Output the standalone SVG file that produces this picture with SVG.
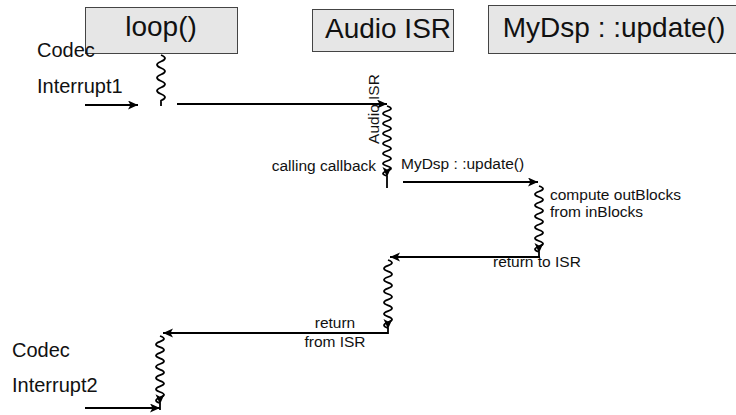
<svg xmlns="http://www.w3.org/2000/svg" width="736" height="415" viewBox="0 0 736 415">
  <style>
    .box { fill: #e6e6e6; stroke: #444; stroke-width: 1; }
    .title { font-family: "Liberation Sans", Arial, sans-serif; font-size: 28px; fill: #111; text-anchor: middle; }
    .side { font-family: "Liberation Sans", Arial, sans-serif; font-size: 20px; fill: #111; }
    .lbl { font-family: "Liberation Sans", Arial, sans-serif; font-size: 15.5px; fill: #111; }
    .msg { fill: none; stroke: #000; stroke-width: 2; }
    .wave { fill: none; stroke: #000; stroke-width: 1.8; stroke-linejoin: round; }
    .head { marker-end: url(#arrow); }
  </style>
  <defs>
    <marker id="arrow" markerUnits="userSpaceOnUse" markerWidth="12" markerHeight="10" refX="10" refY="4.5" orient="auto">
      <path d="M0,0 L10,4.5 L0,9 L2.5,4.5 z" fill="#000"/>
    </marker>
  </defs>

  <!-- lifeline heads -->
  <g id="loop">
    <rect class="box" x="85.5" y="7.5" width="152" height="46"/>
    <text class="title" x="161" y="36">loop()</text>
  </g>
  <g id="audio-isr">
    <rect class="box" x="312.5" y="9.5" width="141" height="42"/>
    <text class="title" x="388" y="38">Audio ISR</text>
  </g>
  <g id="mydsp-update">
    <rect class="box" x="488.5" y="5.5" width="260" height="48"/>
    <text class="title" x="614" y="37">MyDsp : :update()</text>
  </g>

  <!-- side notes -->
  <g id="interrupt1">
    <text class="side" x="37" y="57">Codec</text>
    <text class="side" x="37" y="93">Interrupt1</text>
  </g>
  <g id="interrupt2">
    <text class="side" x="12" y="357">Codec</text>
    <text class="side" x="12" y="392">Interrupt2</text>
  </g>

  <!-- messages and activations -->
  <g id="connectors">
    <!-- loop() running -->
    <path class="wave" d="M161,55 q8,3.25 0,6.5 t0,6.5 t0,6.5 t0,6.5 t0,6.5 t0,6.5 t0,6.5 l0,5.5"/>
    <!-- interrupt 1 arrives -->
    <path class="msg head" d="M85,105 L138,105"/>
    <path class="msg head" d="M177,104 L387,104"/>
    <!-- Audio ISR running -->
    <path class="wave head" d="M387,106 q8,2.5 0,5 t0,5 t0,5 t0,5 t0,5 t0,5 t0,5 t0,5 t0,5 t0,5 t0,5 t0,5 t0,5 t0,5 l0,1"/>
    <path class="wave" d="M387,177 L387,188"/>
    <!-- call into update() -->
    <path class="msg head" d="M403,182 L538,182"/>
    <!-- update() running -->
    <path class="wave head" d="M539,186 q8,2.75 0,5.5 t0,5.5 t0,5.5 t0,5.5 t0,5.5 t0,5.5 t0,5.5 t0,5.5 t0,5.5 t0,5.5 t0,5.5 t0,5.5 l0,1"/>
    <path class="wave" d="M539,253 L539,257"/>
    <!-- return to ISR -->
    <path class="msg head" d="M540,257 L390,257"/>
    <!-- ISR finishing -->
    <path class="wave head" d="M388,260 q8,2.83 0,5.67 t0,5.67 t0,5.67 t0,5.67 t0,5.67 t0,5.67 t0,5.67 t0,5.67 t0,5.67 t0,5.67 t0,5.67 t0,5.67 l0,1"/>
    <path class="wave" d="M388,329 L388,334"/>
    <!-- return from ISR -->
    <path class="msg head" d="M388,333 L163,333"/>
    <!-- loop() resumes -->
    <path class="wave head" d="M160,336 q8,2.8 0,5.6 t0,5.6 t0,5.6 t0,5.6 t0,5.6 t0,5.6 t0,5.6 t0,5.6 t0,5.6 t0,5.6 t0,5.6 t0,5.6 l0,1"/>
    <path class="wave" d="M160,404 L160,410"/>
    <!-- interrupt 2 arrives -->
    <path class="msg head" d="M85,408 L160,408"/>
  </g>

  <!-- message labels -->
  <g id="labels">
    <text class="lbl" transform="translate(379,109) rotate(-90)" text-anchor="middle">Audio ISR</text>
    <text class="lbl" x="376" y="171" text-anchor="end">calling callback</text>
    <text class="lbl" x="401" y="169">MyDsp : :update()</text>
    <text class="lbl" x="550" y="200">compute outBlocks</text>
    <text class="lbl" x="550" y="217">from inBlocks</text>
    <text class="lbl" x="493" y="267">return to ISR</text>
    <text class="lbl" x="335" y="328" text-anchor="middle">return</text>
    <text class="lbl" x="335" y="347" text-anchor="middle">from ISR</text>
  </g>
</svg>
